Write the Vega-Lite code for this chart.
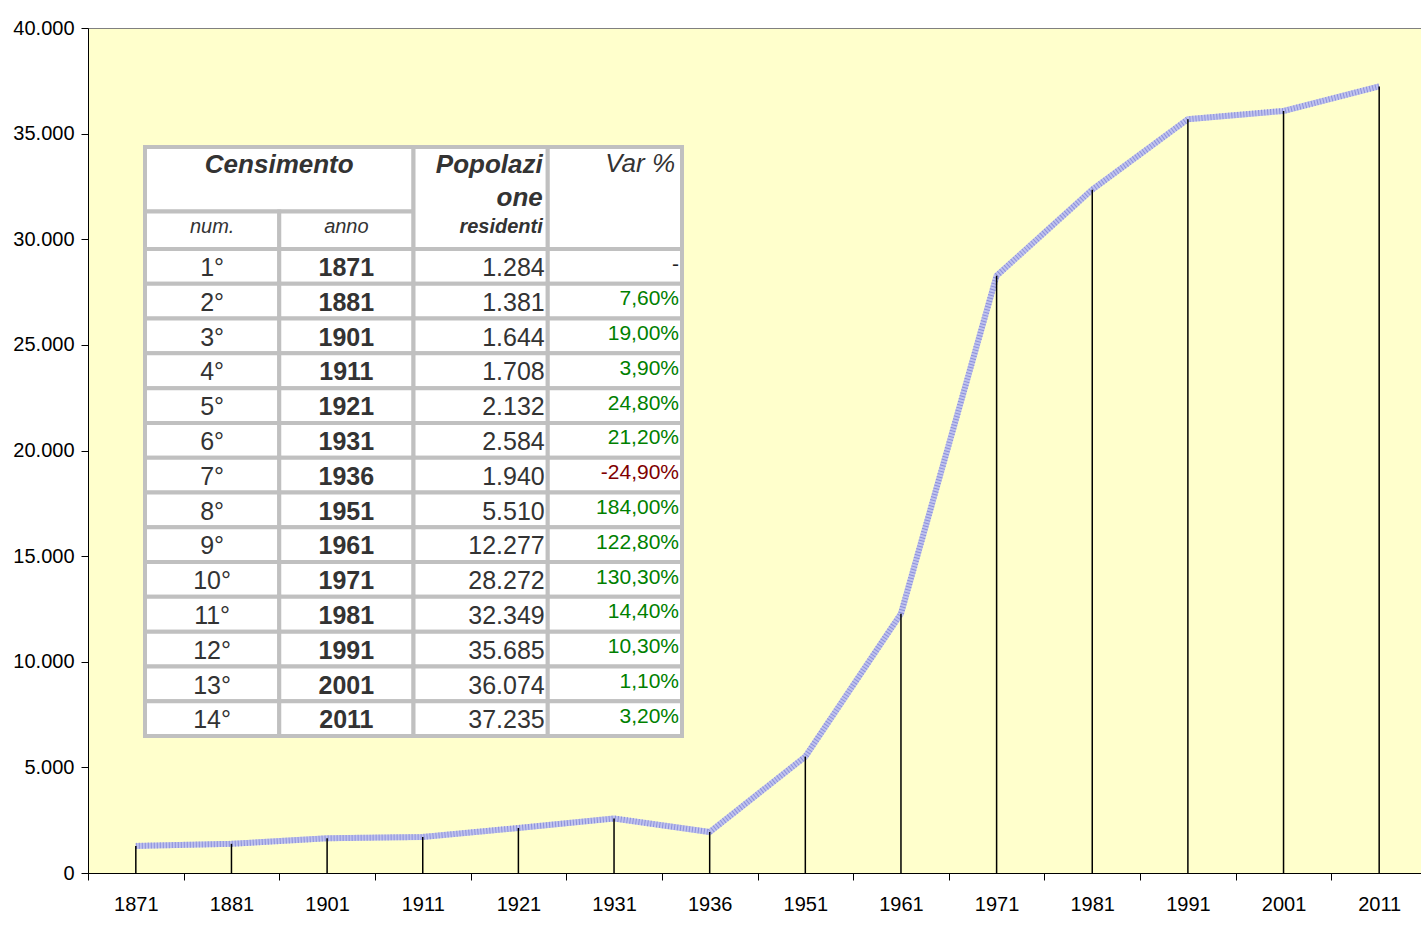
{
  "$schema": "https://vega.github.io/schema/vega-lite/v6.json",
  "width": 1333,
  "height": 845,
  "autosize": {"type": "none"},
  "padding": {"left": 88, "top": 28, "right": 0, "bottom": 76},
  "background": "white",
  "config": {
    "locale": {"number": {"decimal": ",", "thousands": ".", "grouping": [3], "currency": ["€", ""]}},
    "view": {"fill": "#ffffcc", "stroke": "#808080", "strokeWidth": 1},
    "font": "Liberation Sans",
    "text": {"font": "Liberation Sans", "color": "#333333", "baseline": "alphabetic"}
  },
  "datasets": {
    "census": [
      {"num": "1°", "anno": "1871", "pop": 1284, "var": "-"},
      {"num": "2°", "anno": "1881", "pop": 1381, "var": "7,60%"},
      {"num": "3°", "anno": "1901", "pop": 1644, "var": "19,00%"},
      {"num": "4°", "anno": "1911", "pop": 1708, "var": "3,90%"},
      {"num": "5°", "anno": "1921", "pop": 2132, "var": "24,80%"},
      {"num": "6°", "anno": "1931", "pop": 2584, "var": "21,20%"},
      {"num": "7°", "anno": "1936", "pop": 1940, "var": "-24,90%"},
      {"num": "8°", "anno": "1951", "pop": 5510, "var": "184,00%"},
      {"num": "9°", "anno": "1961", "pop": 12277, "var": "122,80%"},
      {"num": "10°", "anno": "1971", "pop": 28272, "var": "130,30%"},
      {"num": "11°", "anno": "1981", "pop": 32349, "var": "14,40%"},
      {"num": "12°", "anno": "1991", "pop": 35685, "var": "10,30%"},
      {"num": "13°", "anno": "2001", "pop": 36074, "var": "1,10%"},
      {"num": "14°", "anno": "2011", "pop": 37235, "var": "3,20%"}
    ]
  },
  "resolve": {"scale": {"x": "independent", "y": "independent"}},
  "layer": [
    {
      "data": {"name": "census"},
      "layer": [
        {
          "mark": {"type": "line", "stroke": "#bfc2ee", "strokeWidth": 6},
          "encoding": {
            "x": {
              "field": "anno", "type": "ordinal",
              "scale": {"type": "band", "range": [0, 1339], "paddingInner": 0, "paddingOuter": 0},
              "axis": {
                "title": null, "labelAngle": 0, "tickBand": "extent", "labelFont": "Liberation Sans",
                "labelFontSize": 20, "labelColor": "#000000", "tickColor": "#000000", "domainColor": "#000000",
                "tickSize": 7, "labelPadding": 14, "grid": false
              }
            },
            "y": {
              "field": "pop", "type": "quantitative",
              "scale": {"domain": [0, 40000], "nice": false},
              "axis": {
                "title": null, "values": [0, 5000, 10000, 15000, 20000, 25000, 30000, 35000, 40000],
                "format": ",d", "labelFont": "Liberation Sans", "labelFontSize": 20, "labelColor": "#000000",
                "tickColor": "#000000", "domainColor": "#000000", "tickSize": 7, "labelPadding": 7, "grid": false
              }
            }
          }
        },
        {
          "mark": {"type": "line", "stroke": "#7f84d6", "strokeWidth": 6, "strokeDash": [1, 2], "opacity": 0.8},
          "encoding": {
            "x": {"field": "anno", "type": "ordinal"},
            "y": {"field": "pop", "type": "quantitative"}
          }
        },
        {
          "mark": {"type": "rule", "color": "#000000", "strokeWidth": 1.5},
          "encoding": {
            "x": {"field": "anno", "type": "ordinal"},
            "y": {"field": "pop", "type": "quantitative"},
            "y2": {"datum": 0}
          }
        }
      ]
    },
    {
      "layer": [
        {
          "data": {"values": [{"cell": "Censimento"}]},
          "mark": {"type": "rect", "fill": "white", "stroke": "#c0c0c0", "strokeWidth": 4},
          "encoding": {
            "x": {"datum": 0, "type": "quantitative", "scale": {"domain": [0, 4], "range": [57, 594]}, "axis": null},
            "x2": {"datum": 2},
            "y": {"datum": 0, "type": "quantitative", "scale": {"domain": [0, 3], "range": [119, 221]}, "axis": null},
            "y2": {"datum": 1.9}
          }
        },
        {
          "data": {"values": [{"cell": "num."}]},
          "mark": {"type": "rect", "fill": "white", "stroke": "#c0c0c0", "strokeWidth": 4},
          "encoding": {
            "x": {"datum": 0, "type": "quantitative"}, "x2": {"datum": 1},
            "y": {"datum": 1.9, "type": "quantitative"}, "y2": {"datum": 3}
          }
        },
        {
          "data": {"values": [{"cell": "anno"}]},
          "mark": {"type": "rect", "fill": "white", "stroke": "#c0c0c0", "strokeWidth": 4},
          "encoding": {
            "x": {"datum": 1, "type": "quantitative"}, "x2": {"datum": 2},
            "y": {"datum": 1.9, "type": "quantitative"}, "y2": {"datum": 3}
          }
        },
        {
          "data": {"values": [{"cell": "Popolazione"}]},
          "mark": {"type": "rect", "fill": "white", "stroke": "#c0c0c0", "strokeWidth": 4},
          "encoding": {
            "x": {"datum": 2, "type": "quantitative"}, "x2": {"datum": 3},
            "y": {"datum": 0, "type": "quantitative"}, "y2": {"datum": 3}
          }
        },
        {
          "data": {"values": [{"cell": "Var %"}]},
          "mark": {"type": "rect", "fill": "white", "stroke": "#c0c0c0", "strokeWidth": 4},
          "encoding": {
            "x": {"datum": 3, "type": "quantitative"}, "x2": {"datum": 4},
            "y": {"datum": 0, "type": "quantitative"}, "y2": {"datum": 3}
          }
        },
        {
          "data": {"values": [{"label": "Censimento"}]},
          "mark": {"type": "text", "align": "center", "fontSize": 26, "fontWeight": "bold", "fontStyle": "italic"},
          "encoding": {
            "x": {"datum": 1, "type": "quantitative"},
            "y": {"datum": 0.765, "type": "quantitative"},
            "text": {"field": "label"}
          }
        },
        {
          "data": {"values": [{"label": "num."}]},
          "mark": {"type": "text", "align": "center", "fontSize": 20, "fontStyle": "italic"},
          "encoding": {
            "x": {"datum": 0.5, "type": "quantitative"},
            "y": {"datum": 2.52, "type": "quantitative"},
            "text": {"field": "label"}
          }
        },
        {
          "data": {"values": [{"label": "anno"}]},
          "mark": {"type": "text", "align": "center", "fontSize": 20, "fontStyle": "italic"},
          "encoding": {
            "x": {"datum": 1.5, "type": "quantitative"},
            "y": {"datum": 2.52, "type": "quantitative"},
            "text": {"field": "label"}
          }
        },
        {
          "data": {"values": [{"label": "Popolazi"}]},
          "mark": {"type": "text", "align": "right", "dx": -5, "fontSize": 26, "fontWeight": "bold", "fontStyle": "italic"},
          "encoding": {
            "x": {"datum": 3, "type": "quantitative"},
            "y": {"datum": 0.765, "type": "quantitative"},
            "text": {"field": "label"}
          }
        },
        {
          "data": {"values": [{"label": "one"}]},
          "mark": {"type": "text", "align": "right", "dx": -5, "fontSize": 26, "fontWeight": "bold", "fontStyle": "italic"},
          "encoding": {
            "x": {"datum": 3, "type": "quantitative"},
            "y": {"datum": 1.73, "type": "quantitative"},
            "text": {"field": "label"}
          }
        },
        {
          "data": {"values": [{"label": "residenti"}]},
          "mark": {"type": "text", "align": "right", "dx": -5, "fontSize": 20, "fontWeight": "bold", "fontStyle": "italic"},
          "encoding": {
            "x": {"datum": 3, "type": "quantitative"},
            "y": {"datum": 2.52, "type": "quantitative"},
            "text": {"field": "label"}
          }
        },
        {
          "data": {"values": [{"label": "Var %"}]},
          "mark": {"type": "text", "align": "right", "dx": -7, "fontSize": 26, "fontStyle": "italic"},
          "encoding": {
            "x": {"datum": 4, "type": "quantitative"},
            "y": {"datum": 0.74, "type": "quantitative"},
            "text": {"field": "label"}
          }
        }
      ]
    },
    {
      "data": {"name": "census"},
      "layer": [
        {
          "transform": [{"fold": ["num", "anno", "pop", "var"]}],
          "mark": {"type": "rect", "fill": "white", "stroke": "#c0c0c0", "strokeWidth": 4},
          "encoding": {
            "x": {
              "field": "key", "type": "nominal",
              "scale": {"type": "band", "domain": ["num", "anno", "pop", "var"], "range": [57, 594], "paddingInner": 0, "paddingOuter": 0},
              "axis": null
            },
            "y": {
              "field": "anno", "type": "ordinal",
              "scale": {"type": "band", "domain": ["1871", "1881", "1901", "1911", "1921", "1931", "1936", "1951", "1961", "1971", "1981", "1991", "2001", "2011"], "range": [221, 708], "paddingInner": 0, "paddingOuter": 0},
              "axis": null
            }
          }
        },
        {
          "mark": {"type": "text", "align": "center", "fontSize": 25},
          "encoding": {
            "x": {"datum": "num", "type": "nominal", "bandPosition": 0.5},
            "y": {"field": "anno", "type": "ordinal", "bandPosition": 0.78},
            "text": {"field": "num"}
          }
        },
        {
          "mark": {"type": "text", "align": "center", "fontSize": 25, "fontWeight": "bold"},
          "encoding": {
            "x": {"datum": "anno", "type": "nominal", "bandPosition": 0.5},
            "y": {"field": "anno", "type": "ordinal", "bandPosition": 0.78},
            "text": {"field": "anno"}
          }
        },
        {
          "mark": {"type": "text", "align": "right", "dx": -3, "fontSize": 25},
          "encoding": {
            "x": {"datum": "pop", "type": "nominal", "bandPosition": 1},
            "y": {"field": "anno", "type": "ordinal", "bandPosition": 0.78},
            "text": {"field": "pop", "type": "quantitative", "format": ",d"}
          }
        },
        {
          "mark": {"type": "text", "align": "right", "dx": -3, "fontSize": 21},
          "encoding": {
            "x": {"datum": "var", "type": "nominal", "bandPosition": 1},
            "y": {"field": "anno", "type": "ordinal", "bandPosition": 0.62},
            "text": {"field": "var"},
            "color": {
              "condition": [
                {"test": "datum['var'] === '-'", "value": "#222222"},
                {"test": "substring(datum['var'], 0, 1) === '-'", "value": "#800000"}
              ],
              "value": "#008000"
            }
          }
        }
      ]
    }
  ]
}
